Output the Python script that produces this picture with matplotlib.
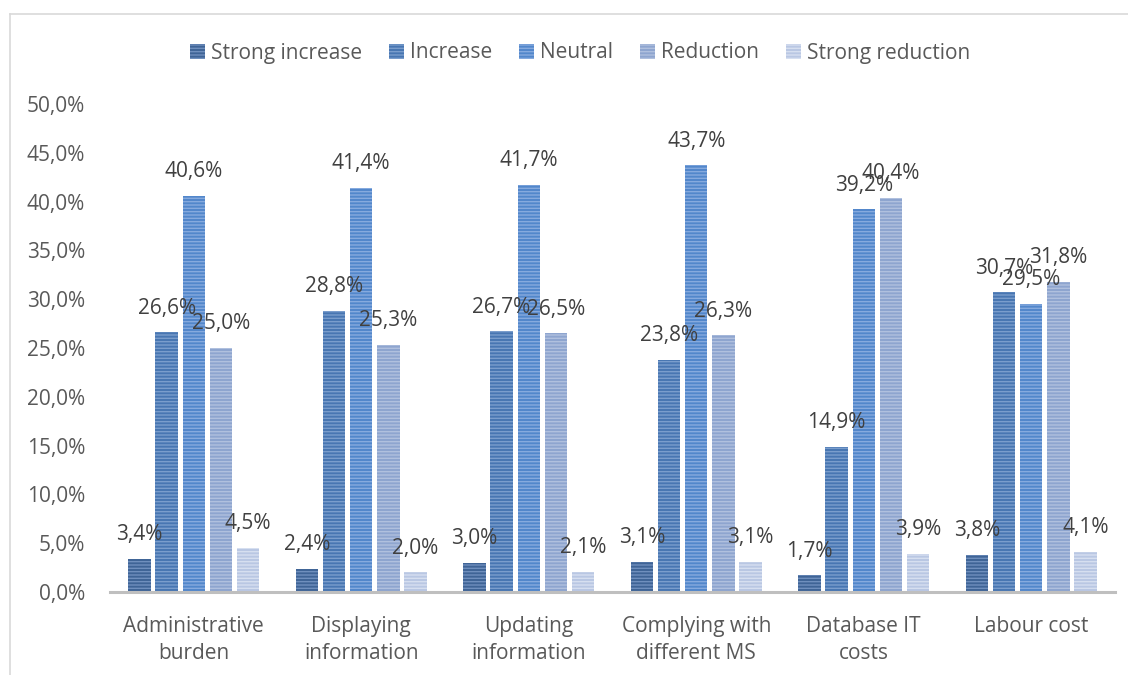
import matplotlib.pyplot as plt
import numpy as np
from matplotlib.lines import Line2D

plt.rcParams['font.family'] = ['Open Sans', 'DejaVu Sans']
plt.rcParams['hatch.linewidth'] = 1.0

categories = ['Administrative\nburden', 'Displaying\ninformation', 'Updating\ninformation',
              'Complying with\ndifferent MS', 'Database IT\ncosts', 'Labour cost']
series = ['Strong increase', 'Increase', 'Neutral', 'Reduction', 'Strong reduction']
strong_increase = [3.4, 2.4, 3.0, 3.1, 1.7, 3.8]
increase = [26.6, 28.8, 26.7, 23.8, 14.9, 30.7]
neutral = [40.6, 41.4, 41.7, 43.7, 39.2, 29.5]
reduction = [25.0, 25.3, 26.5, 26.3, 40.4, 31.8]
strong_reduction = [4.5, 2.0, 2.1, 3.1, 3.9, 4.1]
values = [strong_increase, increase, neutral, reduction, strong_reduction]

faces = ['#3f6496', '#4876b2', '#5287cb', '#8ea5cf', '#b9c7e3']
stripes = ['#6f8fbd', '#7a9dcc', '#86aade', '#b0c0de', '#d6dff0']

fig = plt.figure(figsize=(11.28, 6.75), dpi=100)
ax = fig.add_axes([110 / 1128, 1 - 592 / 675, 1005 / 1128, (592 - 104) / 675])

x = np.arange(len(categories))
step = 0.162
width = 0.134
fs = 15
handles = []
for i, (name, vals) in enumerate(zip(series, values)):
    pos = x + (i - 2) * step
    bars = ax.bar(pos, vals, width, color=faces[i], edgecolor=stripes[i],
                  linewidth=0, hatch='-----', label=name)
    handles.append(bars)
    for p, v in zip(pos, vals):
        ax.annotate(f'{v:.1f}%'.replace('.', ','), (p, v), xytext=(0, 17.5),
                    textcoords='offset points', ha='center', va='center',
                    fontsize=fs, color='#404040')

ax.set_xlim(-0.5, 5.5)
ax.set_ylim(0, 50)
ax.set_yticks(np.arange(0, 51, 5))
ax.set_yticklabels([f'{t:.1f}%'.replace('.', ',') for t in np.arange(0, 51, 5)])
ax.set_xticks(x)
ax.set_xticklabels(categories, linespacing=1.4)
ax.tick_params(axis='both', length=0, labelsize=fs, labelcolor='#595959')
ax.tick_params(axis='y', pad=18)
ax.tick_params(axis='x', pad=17)
for s in ['top', 'right', 'left']:
    ax.spines[s].set_visible(False)
ax.spines['bottom'].set_color('#bfbfbf')
ax.spines['bottom'].set_linewidth(2.2)

fig.legend(handles=handles, labels=series, loc='center', bbox_to_anchor=(580 / 1128, 1 - 53 / 675),
           ncol=5, frameon=False, fontsize=fs, handlelength=0.7, handleheight=0.7,
           handletextpad=0.3, columnspacing=1.3, labelcolor='#595959')

# chart area border
fig.add_artist(Line2D([10 / 1128, 1.0], [1 - 14 / 675] * 2, color='#d9d9d9', lw=1.2))
fig.add_artist(Line2D([10 / 1128] * 2, [0.0, 1 - 14 / 675], color='#d9d9d9', lw=1.2))

fig.savefig('out.png', dpi=100)
